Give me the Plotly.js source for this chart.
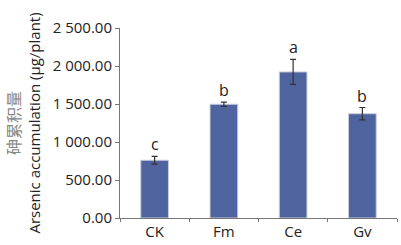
<!DOCTYPE html>
<html><head><meta charset="utf-8">
<script src="https://cdn.plot.ly/plotly-3.0.1.min.js"></script>
<style>html,body{margin:0;padding:0;background:#fff}</style>
</head><body><div id="chart" style="width:401px;height:245px"></div>
<script>
const categories = ["CK", "Fm", "Ce", "Gv"];
const values = [760, 1497, 1922, 1372];
const errors = [52, 28, 165, 82];
const letters = ["c", "b", "a", "b"];
const yTickVals = [0, 500, 1000, 1500, 2000, 2500];
const yTickText = ["0.00", "500.00", "1 000.00", "1 500.00", "2 000.00", "2 500.00"];

const fontFam = "Open Sans, DejaVu Sans, sans-serif";
const trace = {
  type: "bar", x: categories, y: values, width: 0.4,
  marker: {color: "#4f649f", line: {color: "#c9cedd", width: 1}},
  error_y: {type: "data", array: errors, visible: true, color: "#333", thickness: 1.2, width: 3}
};
const annotations = categories.map((c, i) => ({
  x: c, y: values[i] + errors[i], text: letters[i], showarrow: false,
  yanchor: "bottom", yshift: -1, font: {family: fontFam, size: 16, color: "#222"}
}));
const layout = {
  width: 401, height: 245,
  margin: {l: 120, r: 4, t: 28, b: 27},
  paper_bgcolor: "#fff", plot_bgcolor: "#fff",
  showlegend: false,
  xaxis: {
    showline: true, linecolor: "#777", linewidth: 1,
    ticks: "outside", tickson: "boundaries", ticklen: 3, tickcolor: "#777",
    tickfont: {family: fontFam, size: 15, color: "#222"},
    showgrid: false, zeroline: false
  },
  yaxis: {
    range: [0, 2500], tickvals: yTickVals, ticktext: yTickText,
    showline: true, linecolor: "#777", linewidth: 1,
    ticks: "outside", ticklen: 4, tickcolor: "#777",
    tickfont: {family: fontFam, size: 15, color: "#222"},
    showgrid: false, zeroline: false,
    title: {text: "<span style='color:#888;font-size:16px'>砷累积量</span><br>Arsenic accumulation (μg/plant)",
      font: {family: "Open Sans, Noto Sans CJK SC, sans-serif", size: 15, color: "#222"}, standoff: 8}
  },
  annotations: annotations,
  bargap: 0.6
};
Plotly.newPlot("chart", [trace], layout, {displayModeBar: false, staticPlot: true});
</script></body></html>
